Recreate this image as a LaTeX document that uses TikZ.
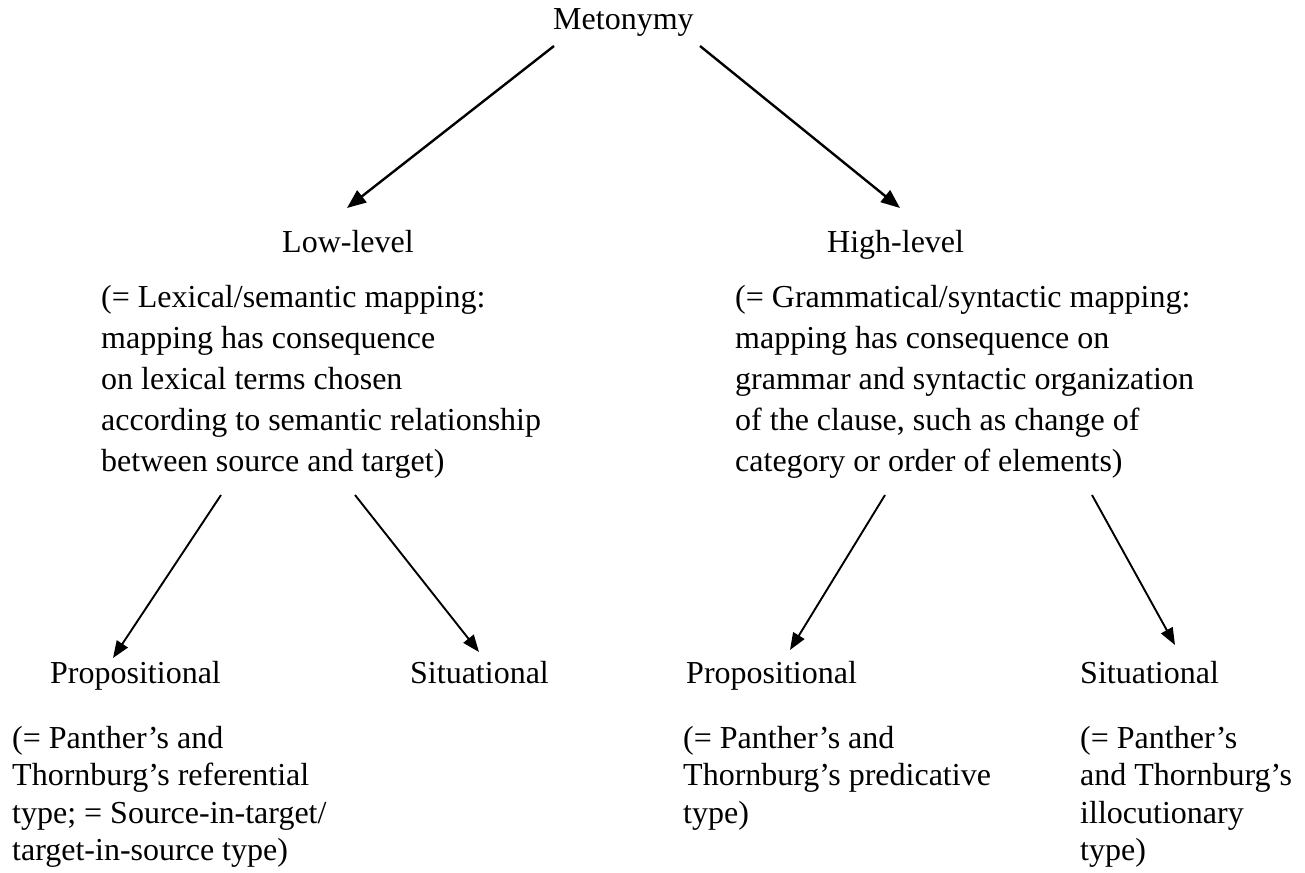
\documentclass[tikz,border=0pt]{standalone}
\usepackage{fontspec}
\setmainfont{Liberation Serif}
\usetikzlibrary{arrows.meta}
\begin{document}
\begin{tikzpicture}[x=1pt,y=-1pt,
  lbl/.style={inner sep=0pt,anchor=base west,font=\fontsize{32}{37}\selectfont},
  blk/.style={inner sep=0pt,anchor=north west,align=left,font=\fontsize{32}{37.5}\selectfont},
  wideblk/.style={blk,font=\fontsize{32}{41}\selectfont},
  arr/.style={line width=1.9pt,-{Triangle[length=17pt,width=13pt]}},
  toparr/.style={line width=2.4pt,-{Triangle[length=19pt,width=15pt]}}]
\useasboundingbox (0,0) rectangle (1305,872);
% top level
\node[lbl] (met) at (553,30) {Metonymy};
% second level
\node[lbl] (low) at (282,252) {Low-level};
\node[lbl] (high) at (827,252) {High-level};
\node[wideblk] (lowtxt) at (101,285) {(= Lexical/semantic mapping:\\mapping has consequence\\on lexical terms chosen\\according to semantic relationship\\between source and target)};
\node[wideblk] (hightxt) at (735,285) {(= Grammatical/syntactic mapping:\\mapping has consequence on\\grammar and syntactic organization\\of the clause, such as change of\\category or order of elements)};
% third level
\node[lbl] (propL) at (50,683) {Propositional};
\node[lbl] (sitL) at (410,683) {Situational};
\node[lbl] (propR) at (686,683) {Propositional};
\node[lbl] (sitR) at (1080,683) {Situational};
\node[blk] (propLtxt) at (12,726) {(= Panther’s and\\Thornburg’s referential\\type; = Source-in-target/\\target-in-source type)};
\node[blk] (propRtxt) at (683,726) {(= Panther’s and\\Thornburg’s predicative\\type)};
\node[blk] (sitRtxt) at (1080,726) {(= Panther’s\\and Thornburg’s\\illocutionary\\type)};
% connector end points
\coordinate (m1) at (554,46);
\coordinate (m2) at (700,46);
\coordinate (lowtip) at (347,208);
\coordinate (hightip) at (900,208);
\coordinate (l1) at (221,495);
\coordinate (l2) at (355,495);
\coordinate (h1) at (885,495);
\coordinate (h2) at (1092,495);
\coordinate (plTip) at (113,658);
\coordinate (slTip) at (479,652);
\coordinate (prTip) at (790,650);
\coordinate (srTip) at (1175,645);
\draw[toparr] (m1) -- (lowtip);
\draw[toparr] (m2) -- (hightip);
\draw[arr] (l1) -- (plTip);
\draw[arr] (l2) -- (slTip);
\draw[arr] (h1) -- (prTip);
\draw[arr] (h2) -- (srTip);
\end{tikzpicture}
\end{document}
